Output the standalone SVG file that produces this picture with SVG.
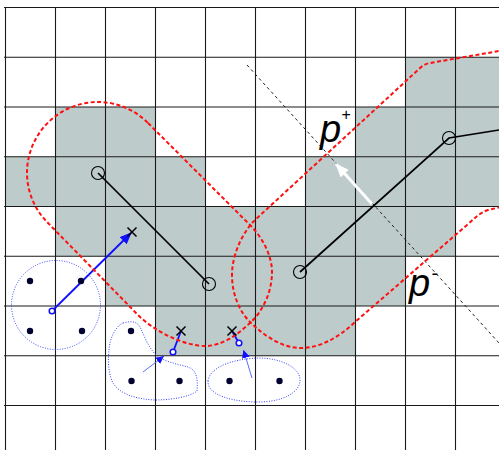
<svg xmlns="http://www.w3.org/2000/svg" width="499" height="450" viewBox="0 0 499 450">
<defs>
<style>
.cell{fill:#bdcbca;stroke:none}
.grid line{stroke:#1a1a1a;stroke-width:1.1}
.hull{fill:none;stroke:#ff1010;stroke-width:2;stroke-dasharray:4 2.5}
.seg{fill:none;stroke:#000;stroke-width:1.7}
.ring{fill:none;stroke:#000;stroke-width:1.1}
.xm{stroke:#000;stroke-width:1.5}
.dot{fill:#000030}
.clus{fill:none;stroke:#3344ff;stroke-width:1;stroke-dasharray:1 1.5}
.blu{fill:none;stroke:#1010ff;stroke-width:1.8}
.thin{fill:none;stroke:#4a5cff;stroke-width:0.9}
.oc{fill:#fff;stroke:#1010ff;stroke-width:1.5}
.lab{font-family:"Liberation Sans",Arial,sans-serif;font-style:italic;fill:#000}
</style>
<marker id="ab" viewBox="0 0 12 10" refX="11" refY="5" markerWidth="12" markerHeight="10" orient="auto" markerUnits="userSpaceOnUse"><path d="M0,0 L12,5 L0,10 z" fill="#1010ff"/></marker>
<marker id="as" viewBox="0 0 8 8" refX="8" refY="4" markerWidth="8" markerHeight="8" orient="auto" markerUnits="userSpaceOnUse"><path d="M0,0 L8,4 L0,8 z" fill="#1010ff"/></marker>
<marker id="aw" viewBox="0 0 14 11" refX="13" refY="5.5" markerWidth="14" markerHeight="11" orient="auto" markerUnits="userSpaceOnUse"><path d="M0,0 L14,5.5 L0,11 z" fill="#fff"/></marker>
</defs>
<rect width="499" height="450" fill="#fff"/>
<g id="cells">
<rect class="cell" x="405.5" y="57.25" width="94" height="49.75"/>
<rect class="cell" x="55.5" y="107" width="100" height="49.75"/>
<rect class="cell" x="355.5" y="107" width="144" height="49.75"/>
<rect class="cell" x="5.5" y="156.75" width="200" height="49.75"/>
<rect class="cell" x="305.5" y="156.75" width="194" height="49.75"/>
<rect class="cell" x="55.5" y="206.5" width="400" height="49.75"/>
<rect class="cell" x="105.5" y="256.25" width="300" height="49.75"/>
<rect class="cell" x="155.5" y="306" width="200" height="49.75"/>
</g>
<g id="grid" class="grid">
<line x1="5.5" y1="7" x2="5.5" y2="450"/>
<line x1="55.5" y1="7" x2="55.5" y2="450"/>
<line x1="105.5" y1="7" x2="105.5" y2="450"/>
<line x1="155.5" y1="7" x2="155.5" y2="450"/>
<line x1="205.5" y1="7" x2="205.5" y2="450"/>
<line x1="255.5" y1="7" x2="255.5" y2="450"/>
<line x1="305.5" y1="7" x2="305.5" y2="450"/>
<line x1="355.5" y1="7" x2="355.5" y2="450"/>
<line x1="405.5" y1="7" x2="405.5" y2="450"/>
<line x1="455.5" y1="7" x2="455.5" y2="450"/>
<line x1="4" y1="7.5" x2="499" y2="7.5"/>
<line x1="4" y1="57.25" x2="499" y2="57.25"/>
<line x1="4" y1="107" x2="499" y2="107"/>
<line x1="4" y1="156.75" x2="499" y2="156.75"/>
<line x1="4" y1="206.5" x2="499" y2="206.5"/>
<line x1="4" y1="256.25" x2="499" y2="256.25"/>
<line x1="4" y1="306" x2="499" y2="306"/>
<line x1="4" y1="355.75" x2="499" y2="355.75"/>
<line x1="4" y1="405.5" x2="499" y2="405.5"/>
</g>
<g id="separator">
<line x1="247" y1="65" x2="499" y2="343" stroke="#222" stroke-width="1" stroke-dasharray="3 3"/>
</g>
<g id="connectors">
<path class="seg" d="M98,173 L209,284"/>
<path class="seg" d="M300,272 L449,138 L499,130"/>
<path class="blu" d="M52,311 L131,233" marker-end="url(#ab)"/>
<path class="blu" d="M174,349.5 L181,331"/>
<path class="blu" d="M237.5,340.5 L232,331"/>
<path class="thin" d="M143,372 L164,356" marker-end="url(#as)"/>
<path class="thin" d="M252,378 L243.5,350" marker-end="url(#as)"/>
<path d="M372,204 L336,164" fill="none" stroke="#fff" stroke-width="3" marker-end="url(#aw)"/>
</g>
<g id="hull-left">
<path class="hull" d="M148,123 L250,225 C262,237 272,255 272,272 C272,292 263,311 250,323 C237,335 222,346 205,346 C185,346 155,332 138,315 L48,223 A71,71 0 0 1 27,173 A71,71 0 0 1 98,102 A71,71 0 0 1 148,123 Z"/>
</g>
<g id="hull-right">
<path class="hull" d="M505,50 L430,63 Q424,64 419,69 L255,220 C245,229.5 232,252 232,275 C232,295 240,312 250,322 C260,332 280,348 300,348 C320,348 338,338 355,322 L467,225 C474,219 479,213 488,210 L505,206"/>
</g>
<g id="node-a"><circle class="ring" cx="98" cy="173" r="6.5"/></g>
<g id="node-b"><circle class="ring" cx="209" cy="284" r="6.5"/></g>
<g id="node-c"><circle class="ring" cx="300" cy="272" r="6.5"/></g>
<g id="node-d"><circle class="ring" cx="449" cy="138" r="6.5"/></g>
<g id="cluster-1">
<circle class="clus" cx="56" cy="305" r="44.5"/>
<circle class="dot" cx="30" cy="281" r="3.2"/>
<circle class="dot" cx="81" cy="281" r="3.2"/>
<circle class="dot" cx="30" cy="331" r="3.2"/>
<circle class="dot" cx="82" cy="331" r="3.2"/>
<circle class="oc" cx="52" cy="311" r="2.8"/>
</g>
<g id="cluster-2">
<path class="clus" d="M123,323 C130,321 137,321 140,327 C144,335 147,345 155,354 C162,361 176,364 188,367 C197,370 198,380 197,391 C190,397 170,400 155,400 C135,399 120,394 113,383 C108,373 108,360 109,350 C110,338 115,327 123,323 Z"/>
<circle class="dot" cx="131" cy="331" r="3.2"/>
<circle class="dot" cx="131.5" cy="381" r="3.2"/>
<circle class="dot" cx="179.5" cy="381" r="3.2"/>
<circle class="oc" cx="173" cy="352" r="2.8"/>
</g>
<g id="cluster-3">
<path class="clus" d="M208,381 C210,366 235,359 258,358 C282,358 300,368 300,380 C300,393 282,402 258,402 C232,402 207,395 208,381 Z"/>
<circle class="dot" cx="229.5" cy="381" r="3.2"/>
<circle class="dot" cx="279.5" cy="381" r="3.2"/>
<circle class="oc" cx="239" cy="343" r="2.8"/>
</g>
<g id="targets">
<path class="xm" d="M127.5,227.5 L136.5,236.5 M136.5,227.5 L127.5,236.5"/>
<path class="xm" d="M176.5,326.5 L185.5,335.5 M185.5,326.5 L176.5,335.5"/>
<path class="xm" d="M227.5,326.5 L236.5,335.5 M236.5,326.5 L227.5,335.5"/>
</g>
<g id="labels">
<text class="lab" x="320" y="142" font-size="38">p<tspan font-size="16" dy="-22">+</tspan></text>
<text class="lab" x="409" y="296" font-size="38">p<tspan font-size="20" dx="1" dy="-16">-</tspan></text>
</g>
</svg>
